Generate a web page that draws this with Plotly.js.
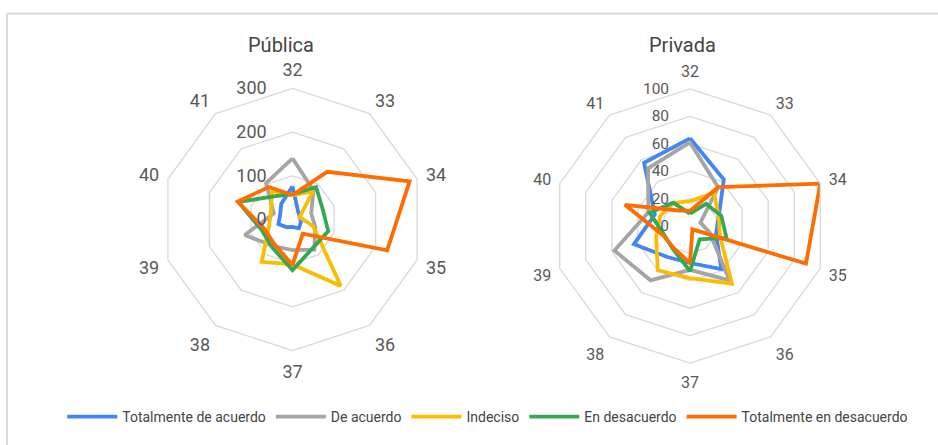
<!DOCTYPE html>
<html>
<head>
<meta charset="utf-8">
<script src="https://cdn.plot.ly/plotly-3.0.1.min.js"></script>
<style>html,body{margin:0;padding:0;background:#fff;}#chart{width:938px;height:445px;}</style>
</head>
<body>
<div id="chart"></div>
<script>
// Categories (question numbers)
const categories = ['32','33','34','35','36','37','38','39','40','41'];
const seriesNames = ['Totalmente de acuerdo','De acuerdo','Indeciso','En desacuerdo','Totalmente en desacuerdo'];
const seriesColors = ['#4285F4','#A5A5A5','#FBBC04','#34A853','#FF6D01'];

// Pública
const pubTotalAcuerdo   = [76, 22, 18, 20, 25, 17, 22, 34, 30, 44];
const pubAcuerdo        = [140, 82, 45, 55, 85, 70, 75, 115, 45, 103];
const pubIndeciso       = [55, 80, 17, 50, 188, 103, 120, 57, 52, 80];
const pubDesacuerdo     = [58, 92, 73, 86, 80, 116, 79, 75, 130, 66];
const pubTotalDesacuerdo= [56, 135, 282, 228, 40, 104, 70, 68, 132, 92];

// Privada
const privTotalAcuerdo   = [64, 42, 22, 20, 39, 27, 28, 43, 27, 57];
const privAcuerdo        = [61, 35, 8, 15, 49, 32, 49, 58, 32, 52];
const privIndeciso       = [18, 30, 22, 23, 52, 38, 40, 26, 23, 21];
const privDesacuerdo     = [9, 20, 24, 28, 12, 33, 21, 20, 31, 21];
const privTotalDesacuerdo= [11, 35, 100, 89, 3, 27, 20, 21, 50, 14];

const pubData  = [pubTotalAcuerdo, pubAcuerdo, pubIndeciso, pubDesacuerdo, pubTotalDesacuerdo];
const privData = [privTotalAcuerdo, privAcuerdo, privIndeciso, privDesacuerdo, privTotalDesacuerdo];

const closeLoop = arr => arr.concat([arr[0]]);
const thetaClosed = closeLoop(categories);

const traces = [];
pubData.forEach((vals, i) => {
  traces.push({
    type: 'scatterpolar', mode: 'lines', subplot: 'polar',
    r: closeLoop(vals), theta: thetaClosed,
    name: seriesNames[i], legendgroup: seriesNames[i],
    line: {color: seriesColors[i], width: 3.8},
    hoverinfo: 'skip'
  });
});
privData.forEach((vals, i) => {
  traces.push({
    type: 'scatterpolar', mode: 'lines', subplot: 'polar2',
    r: closeLoop(vals), theta: thetaClosed,
    name: seriesNames[i], legendgroup: seriesNames[i], showlegend: false,
    line: {color: seriesColors[i], width: 3.8},
    hoverinfo: 'skip'
  });
});

function polarCfg(domain, rmax, dtick, afsize, rfsize, rticklen) {
  const tv = [];
  for (let v = 0; v <= rmax; v += dtick) tv.push(v);
  return {
    domain: domain,
    bgcolor: 'rgba(0,0,0,0)',
    gridshape: 'linear',
    angularaxis: {
      rotation: 90, direction: 'clockwise', type: 'category',
      showgrid: false, showline: true, linecolor: '#d9d9d9', linewidth: 1.3,
      ticks: 'outside', ticklen: 5, tickcolor: 'rgba(0,0,0,0)',
      tickfont: {family: 'Roboto, sans-serif', size: afsize, color: '#595959'}
    },
    radialaxis: {
      range: [0, rmax], tickvals: tv, angle: 90, tickangle: 90,
      side: 'counterclockwise', showline: false, showgrid: true,
      gridcolor: '#d9d9d9', gridwidth: 1.3, ticks: 'outside', ticklen: rticklen,
      tickcolor: 'rgba(0,0,0,0)',
      tickfont: {family: 'Roboto, sans-serif', size: rfsize, color: '#595959'}
    }
  };
}

const W = 938, H = 445;
function dom(cx, cy, R) {
  return {x: [(cx - R) / W, (cx + R) / W], y: [(H - cy - R) / H, (H - cy + R) / H]};
}

const layout = {
  width: W, height: H,
  margin: {l: 0, r: 0, t: 0, b: 0},
  paper_bgcolor: '#ffffff',
  font: {family: 'Roboto, sans-serif', color: '#444'},
  showlegend: true,
  legend: {
    orientation: 'h', x: 0.52, xanchor: 'center', y: 0.063, yanchor: 'middle',
    font: {family: 'Roboto, sans-serif', size: 14, color: '#444'},
    itemwidth: 50, traceorder: 'normal'
  },
  polar: polarCfg(dom(292.5, 219.5, 131), 300, 100, 18, 18, 19),
  polar2: polarCfg(dom(690, 226, 137), 100, 20, 16, 15.5, 15),
  annotations: [
    {text: 'Pública', x: 281/W, y: 1 - 45/H, xref: 'paper', yref: 'paper',
     showarrow: false, xanchor: 'center', yanchor: 'middle',
     font: {family: 'Roboto, sans-serif', size: 20, color: '#444'}},
    {text: 'Privada', x: 682/W, y: 1 - 45/H, xref: 'paper', yref: 'paper',
     showarrow: false, xanchor: 'center', yanchor: 'middle',
     font: {family: 'Roboto, sans-serif', size: 20, color: '#444'}}
  ],
  shapes: [
    {type: 'line', xref: 'paper', yref: 'paper', x0: 7/W, x1: 1, y0: 1 - 13.5/H, y1: 1 - 13.5/H,
     line: {color: '#d9d9d9', width: 2}},
    {type: 'line', xref: 'paper', yref: 'paper', x0: 7/W, x1: 7/W, y0: 0, y1: 1 - 13.5/H,
     line: {color: '#d9d9d9', width: 2}}
  ]
};

Plotly.newPlot('chart', traces, layout, {staticPlot: true, displayModeBar: false});
</script>
</body>
</html>
